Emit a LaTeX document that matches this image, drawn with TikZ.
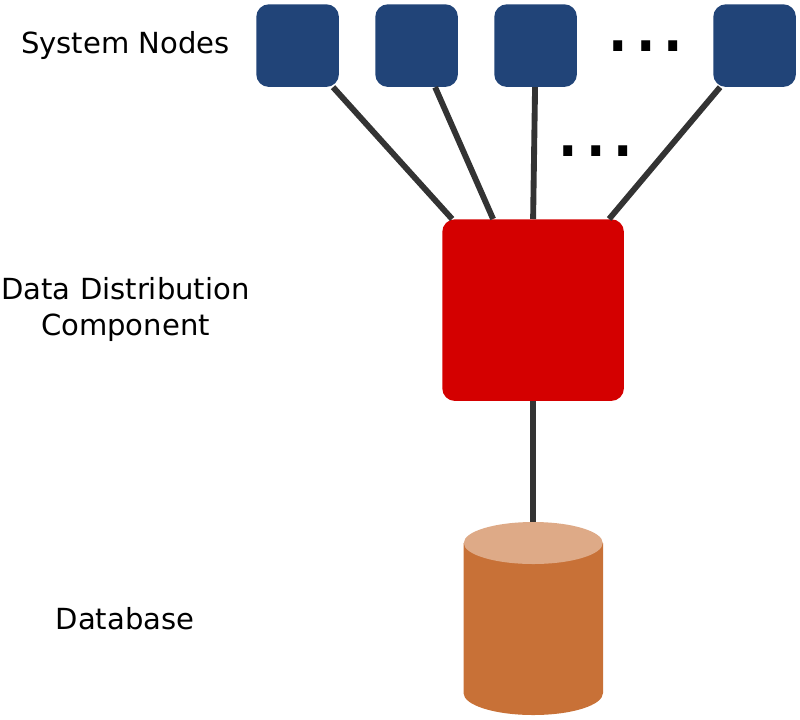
\documentclass[tikz,border=0pt]{standalone}
\usepackage{fontspec}
\setmainfont{DejaVu Sans}
\definecolor{nodeblue}{HTML}{214478}
\definecolor{distred}{HTML}{D40000}
\definecolor{dbbody}{HTML}{C87137}
\definecolor{dbtop}{HTML}{DEAA87}
\definecolor{linkgrey}{HTML}{333333}
\tikzset{
  sysnode/.style={fill=nodeblue,draw=none,rounded corners=9.5,minimum width=62pt,minimum height=62pt,inner sep=0pt,anchor=north west},
  distnode/.style={fill=distred,draw=none,rounded corners=9.5,minimum width=136.25pt,minimum height=136.25pt,inner sep=0pt,anchor=north west},
  link/.style={draw=linkgrey,line width=4.4pt},
  caption/.style={font=\fontsize{21.8pt}{27pt}\selectfont,align=center,inner sep=0pt,anchor=base},
  dots/.style={font=\fontsize{64.8pt}{70pt}\selectfont,inner sep=0pt,anchor=base west,text height=8pt}
}
\begin{document}
\begin{tikzpicture}[x=0.75pt,y=-0.75pt]
\useasboundingbox (0,0) rectangle (800,719);
% nodes
\node[sysnode] (n1) at (256,4) {};
\node[sysnode] (n2) at (375,4) {};
\node[sysnode] (n3) at (494,4) {};
\node[sysnode] (n4) at (713,4) {};
\node[distnode] (dd) at (442,219) {};
\coordinate (dbt) at (533,522);
% connectors
\draw[link] ([xshift=26.6pt]n1.south) -- ([xshift=-60.75pt]dd.north);
\draw[link] ([xshift=13.9pt]n2.south) -- ([xshift=-30pt]dd.north);
\draw[link] ([xshift=-0.4pt]n3.south) -- ([xshift=0pt]dd.north);
\draw[link] ([xshift=-25.9pt]n4.south) -- ([xshift=57pt]dd.north);
\draw[link] (dd.south) -- (dd.south |- dbt);
% database
\fill[dbbody] (463.5,543) -- (463.5,693) .. controls (463.5,705) and (494,715) .. (533.25,715)
  .. controls (572.5,715) and (603,705) .. (603,693) -- (603,543) -- cycle;
\fill[dbtop] (533.25,543) ellipse [x radius=69.5,y radius=21];
% texts
\node[caption] (t1) at (125.5,53.5) {System Nodes};
\node[caption] (t2) at (125.5,335) {Data Distribution\\[0pt]Component};
\node[caption] (t3) at (125,629.5) {Database};
\node[dots] (d1) at (604.7,51) {...};
\node[dots] (d2) at (554.7,156) {...};
\end{tikzpicture}
\end{document}
